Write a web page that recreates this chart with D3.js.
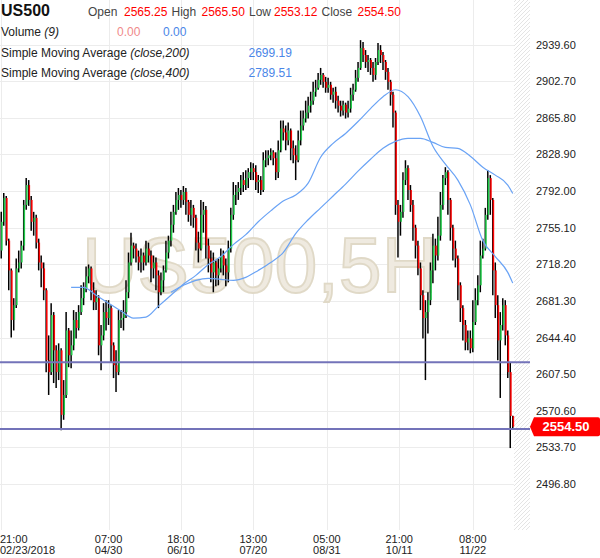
<!DOCTYPE html>
<html><head><meta charset="utf-8">
<script src="https://cdn.jsdelivr.net/npm/d3@7"></script>
<style>
html,body{margin:0;padding:0;background:#fff;}
svg{display:block;font-family:"Liberation Sans",Arial,sans-serif;}
</style></head><body>
<svg id="chart" width="600" height="558"></svg>
<script>
// ---------- DATA ----------
const symbol = "US500";
const watermarkText = "US500,5H";
const opens = [
2732,2761,2785,2742,2712,2662,2677,2714,2720,2737,
2778,2798,2783,2761,2765,2740,2720,2714,2692,2621.5,
2609.5,2667,2631.5,2609.5,2631.5,2566.5,2586.5,2651.5,2626.5,2636.5,
2662,2654,2670,2684,2694,2706,2714,2692,2680,2684,
2636.5,2646.5,2670,2664,2674,2636.5,2616.5,2609.5,2662,2664,
2670,2690,2720,2737,2734,2726,2720,2727,2720,2734,
2727,2714,2720,2707,2690,2702,2712,2730,2742,2758,
2771,2783,2788,2783,2791,2781,2768,2775,2765,2740,
2734,2768,2773,2737,2724,2710,2720,2707,2714,2727,
2717,2710,2734,2768,2788,2791,2795,2803,2798,2805,
2811,2815,2811,2801,2803,2793,2823,2825,2828,2831,
2825,2811,2833,2855,2851,2843,2853,2835,2828,2823,
2843,2858,2865,2871,2878,2883,2892,2896,2904,2909,
2902,2896,2899,2889,2892,2883,2878,2873,2879,2871,
2875,2889,2894,2906,2916,2936,2929,2922,2924,2916,
2909,2922,2934,2929,2922,2912,2902,2889,2871,2778,
2761,2771,2803,2815,2793,2778,2755,2737,2714,2687,
2664,2670,2682,2712,2737,2727,2747,2778,2805,2811,
2783,2755,2734,2724,2697,2674,2657,2639.5,2643.5,2633.5,
2660,2682,2697,2727,2734,2768,2805,2783,2712,2677,
2641.5,2657,2677,2646.5,2609.5,2565.25];
const highs = [
2771,2790,2787,2744,2714,2684,2724,2732,2742,2783,
2805,2803,2787,2771,2768,2744,2727,2720,2694,2646.5,
2679,2670,2636.5,2638.5,2633.5,2601.5,2670,2654,2651.5,2672,
2670,2677,2697,2700,2716,2718,2716,2700,2692,2687,
2657,2679,2682,2682,2677,2639.5,2631.5,2672,2672,2682,
2702,2730,2750,2740,2739,2732,2734,2730,2742,2740,
2732,2727,2725,2712,2710,2717,2742,2747,2771,2778,
2791,2795,2793,2797,2795,2783,2783,2778,2768,2751,
2783,2781,2777,2744,2732,2730,2722,2724,2734,2732,
2724,2742,2775,2801,2798,2801,2808,2811,2813,2815,
2821,2820,2818,2808,2807,2831,2833,2833,2835,2833,
2831,2843,2863,2863,2858,2861,2855,2843,2838,2853,
2873,2873,2883,2887,2892,2902,2904,2911,2916,2911,
2907,2906,2902,2896,2897,2888,2883,2883,2881,2883,
2896,2900,2914,2922,2944,2942,2934,2929,2926,2922,
2926,2941,2939,2932,2924,2916,2904,2892,2873,2783,
2778,2811,2823,2818,2798,2783,2758,2742,2720,2692,
2682,2690,2720,2749,2744,2766,2791,2808,2816,2813,
2785,2758,2742,2727,2700,2677,2662,2651.5,2651.5,2682,
2694,2707,2742,2744,2775,2813,2808,2785,2720,2687,
2670,2684,2682,2651.5,2619.5,2565.5];
const lows = [
2724,2757,2737,2692,2644.5,2651.5,2674,2710,2714,2732,
2773,2777,2752,2747,2734,2712,2695,2682,2609.5,2586.5,
2606.5,2598.5,2593.5,2601.5,2551,2561.5,2583.5,2614.5,2613.5,2631.5,
2643.5,2651.5,2667,2677,2690,2699,2682,2672,2672,2626.5,
2611.5,2641.5,2651.5,2657,2619.5,2603.5,2589.5,2606.5,2654,2651.5,
2664,2684,2717,2724,2720,2712,2710,2712,2717,2720,
2700,2704,2692,2674,2687,2690,2710,2724,2736,2750,
2768,2773,2775,2778,2768,2761,2757,2755,2732,2720,
2732,2750,2724,2710,2700,2690,2696,2697,2710,2707,
2696,2700,2730,2763,2778,2783,2788,2791,2793,2795,
2803,2803,2793,2790,2788,2791,2816,2818,2823,2818,
2803,2805,2831,2843,2833,2838,2823,2820,2803,2821,
2838,2853,2861,2865,2871,2879,2887,2894,2899,2896,
2891,2891,2884,2881,2875,2871,2867,2868,2865,2866,
2871,2883,2892,2902,2914,2922,2916,2912,2909,2902,
2904,2919,2921,2914,2904,2894,2878,2856,2768,2725,
2747,2765,2798,2783,2771,2742,2724,2707,2672,2643.5,
2601.5,2648.5,2677,2699,2712,2722,2742,2773,2798,2768,
2742,2722,2715,2682,2660,2641.5,2631.5,2631.5,2628.5,2629.5,
2657,2677,2690,2724,2732,2763,2768,2687,2664,2621.5,
2583.5,2651.5,2636.5,2603.5,2533,2553.12];
const closes = [
2761,2785,2742,2712,2662,2677,2714,2720,2737,2778,
2798,2783,2761,2765,2740,2720,2714,2692,2621.5,2609.5,
2667,2631.5,2609.5,2631.5,2566.5,2586.5,2651.5,2626.5,2636.5,2662,
2654,2670,2684,2694,2706,2714,2692,2680,2684,2636.5,
2646.5,2670,2664,2674,2636.5,2616.5,2609.5,2662,2664,2670,
2690,2720,2737,2734,2726,2720,2727,2720,2734,2727,
2714,2720,2707,2690,2702,2712,2730,2742,2758,2771,
2783,2788,2783,2791,2781,2768,2775,2765,2740,2734,
2768,2773,2737,2724,2710,2720,2707,2714,2727,2717,
2710,2734,2768,2788,2791,2795,2803,2798,2805,2811,
2815,2811,2801,2803,2793,2823,2825,2828,2831,2825,
2811,2833,2855,2851,2843,2853,2835,2828,2823,2843,
2858,2865,2871,2878,2883,2892,2896,2904,2909,2902,
2896,2899,2889,2892,2883,2878,2873,2879,2871,2875,
2889,2894,2906,2916,2936,2929,2922,2924,2916,2909,
2922,2934,2929,2922,2912,2902,2889,2871,2778,2761,
2771,2803,2815,2793,2778,2755,2737,2714,2687,2664,
2670,2682,2712,2737,2727,2747,2778,2805,2811,2783,
2755,2734,2724,2697,2674,2657,2639.5,2643.5,2633.5,2660,
2682,2697,2727,2734,2768,2805,2783,2712,2677,2641.5,
2657,2677,2646.5,2609.5,2565.25,2554.5];

// Simple moving averages (read at candle indices)
const sma200Idx = [28,33,38,43,48,53,58,63,68,73,78,83,88,93,98,103,108,113,118,123,128,133,138,143,148,153,158,163,168,173,178,183,188,193,198,203,205];
const sma200 = [2695,2695,2687,2679,2671,2664,2665,2676,2687,2698,2707,2718,2726,2738,2748,2761,2772,2782,2788,2800,2826,2840,2850,2862,2875,2887,2894,2887,2867,2837,2819,2803,2778,2742,2726,2710,2699.19];
const sma400Idx = [68,73,78,83,88,93,98,103,108,113,118,123,128,133,138,143,148,153,158,163,168,173,178,183,188,193,198,203,205];
const sma400 = [2690,2697,2702,2704,2703,2702,2705,2712,2720,2730,2749,2763,2775,2787,2799,2812,2824,2835,2842,2845,2845,2841,2836,2835,2827,2816,2808,2798,2789.51];

const priceTicks = [2496.8,2533.7,2570.6,2607.5,2644.4,2681.3,2718.2,2755.1,2792.0,2828.9,2865.8,2902.7,2939.6];
const timeTickIdx = [0,43,72,101,130.5,159.5,189];
const timeTickTop = ["21:00","07:00","18:00","13:00","05:00","21:00","08:00"];
const timeTickBottom = ["02/23/2018","04/30","06/10","07/20","08/31","10/11","11/22"];
const levels = [2619.5, 2552.3];
const volumeValues = [0.00, 0.00];

// ---------- LAYOUT ----------
const plotRight = 514, hatchRight = 530, plotBottom = 530;
const svg = d3.select("#chart");
const n = closes.length;
const x = d3.scaleLinear().domain([0, n - 1]).range([1.25, 512.75]);
const y = d3.scaleLinear().domain([2496.8, 2939.6]).range([484, 44.5]);

// hatch pattern
const defs = svg.append("defs");
const pat = defs.append("pattern").attr("id","hatch").attr("patternUnits","userSpaceOnUse")
  .attr("width",4).attr("height",4);
pat.append("path").attr("d","M-1,1 l2,-2 M0,4 l4,-4 M3,5 l2,-2")
  .attr("stroke","#e4e4e4").attr("stroke-width",1);
svg.append("rect").attr("x",plotRight).attr("y",0).attr("width",hatchRight-plotRight)
  .attr("height",plotBottom).attr("fill","url(#hatch)");

// grid
const grid = svg.append("g").attr("stroke","#ececec").attr("stroke-width",1);
grid.selectAll("line.h").data(priceTicks).join("line").attr("class","h")
  .attr("x1",0).attr("x2",plotRight)
  .attr("y1",d=>Math.round(y(d))+0.5).attr("y2",d=>Math.round(y(d))+0.5);
grid.selectAll("line.v").data(timeTickIdx).join("line").attr("class","v")
  .attr("x1",d=>Math.round(x(d))+0.5).attr("x2",d=>Math.round(x(d))+0.5)
  .attr("y1",0).attr("y2",plotBottom);

// watermark
svg.append("text").attr("x",82).attr("y",292)
  .attr("font-size",77).attr("fill","#efeae0").attr("stroke","#e0d9c7").attr("stroke-width",1.8)
  .text(watermarkText);

// header
const hdr = svg.append("g").attr("font-size",12);
hdr.append("text").attr("x",1).attr("y",16).attr("font-size",16).attr("font-weight","bold")
  .attr("fill","#111").text(symbol);
const ohlc = [["Open",opens[n-1],88,124],["High",highs[n-1],171.5,201.5],["Low",lows[n-1],249,274],["Close",closes[n-1],321.5,357.5]];
ohlc.forEach(([lab,val,lx,vx])=>{
  hdr.append("text").attr("x",lx).attr("y",16).attr("fill","#444").text(lab);
  hdr.append("text").attr("x",vx).attr("y",16).attr("fill","#ff0000").text(val.toFixed(2));
});
const vol = hdr.append("text").attr("x",1).attr("y",36).attr("fill","#222");
vol.append("tspan").text("Volume ");
vol.append("tspan").attr("font-style","italic").text("(9)");
hdr.append("text").attr("x",117).attr("y",36).attr("fill","#f08a8a").text(volumeValues[0].toFixed(2));
hdr.append("text").attr("x",163).attr("y",36).attr("fill","#4a86e8").text(volumeValues[1].toFixed(2));
[[200,sma200,57],[400,sma400,77]].forEach(([p,arr,yy])=>{
  const t = hdr.append("text").attr("x",1).attr("y",yy).attr("fill","#222");
  t.append("tspan").text("Simple Moving Average ");
  t.append("tspan").attr("font-style","italic").text("(close,"+p+")");
  hdr.append("text").attr("x",248.5).attr("y",yy).attr("fill","#4a86e8").text(arr[arr.length-1].toFixed(2));
});

// candles
const idx = d3.range(n);
const cg = svg.append("g");
cg.selectAll("line.wick").data(idx).join("line").attr("class","wick")
  .attr("x1",i=>x(i)).attr("x2",i=>x(i))
  .attr("y1",i=>y(highs[i])).attr("y2",i=>y(lows[i]))
  .attr("stroke","#000").attr("stroke-width",1.5);
cg.selectAll("rect.body").data(idx).join("rect").attr("class","body")
  .attr("x",i=>x(i)-0.1).attr("width",1.5)
  .attr("y",i=>y(Math.max(opens[i],closes[i])))
  .attr("height",i=>Math.max(1, Math.abs(y(opens[i])-y(closes[i]))))
  .attr("fill",i=>closes[i]>=opens[i]?"#1fcc48":"#ff0000");

// SMA lines
const line = d3.line().x(d=>x(d[0])).y(d=>y(d[1])).curve(d3.curveMonotoneX);
svg.append("path").datum(d3.zip(sma200Idx,sma200)).attr("d",line)
  .attr("fill","none").attr("stroke","#6aa3f5").attr("stroke-width",1.2);
svg.append("path").datum(d3.zip(sma400Idx,sma400)).attr("d",line)
  .attr("fill","none").attr("stroke","#6aa3f5").attr("stroke-width",1.2);

// horizontal levels
svg.selectAll("line.level").data(levels).join("line").attr("class","level")
  .attr("x1",0).attr("x2",hatchRight)
  .attr("y1",d=>y(d)).attr("y2",d=>y(d))
  .attr("stroke","#7373b9").attr("stroke-width",2);

// right axis
const yAxis = d3.axisRight(y).tickValues(priceTicks).tickFormat(d3.format(".2f")).tickSize(0).tickPadding(0);
const ya = svg.append("g").attr("transform","translate(536,0)").call(yAxis);
ya.select(".domain").remove();
ya.selectAll("text").attr("font-size",11).attr("fill","#222").attr("font-family","Liberation Sans, Arial, sans-serif");

// bottom labels
const tl = svg.append("g").attr("font-size",11).attr("fill","#222");
timeTickIdx.forEach((t,k)=>{
  const xx = k===0 ? 0 : x(t);
  const anchor = k===0 ? "start" : "middle";
  tl.append("text").attr("x",xx).attr("y",542.5).attr("text-anchor",anchor).text(timeTickTop[k]);
  tl.append("text").attr("x",xx).attr("y",553.5).attr("text-anchor",anchor).text(timeTickBottom[k]);
});

// last price badge
const lp = closes[n-1], ly = y(lp);
svg.append("path")
  .attr("d",`M530,${ly} L534,${ly-9.5} H598 Q600,${ly-9.5} 600,${ly-7.5} V${ly+7.5} Q600,${ly+9.5} 598,${ly+9.5} H534 Z`)
  .attr("fill","#ff0000");
svg.append("text").attr("x",566).attr("y",ly+4.5).attr("text-anchor","middle")
  .attr("font-size",13).attr("font-weight","bold").attr("fill","#fff").text(lp.toFixed(2));
</script>
</body></html>
